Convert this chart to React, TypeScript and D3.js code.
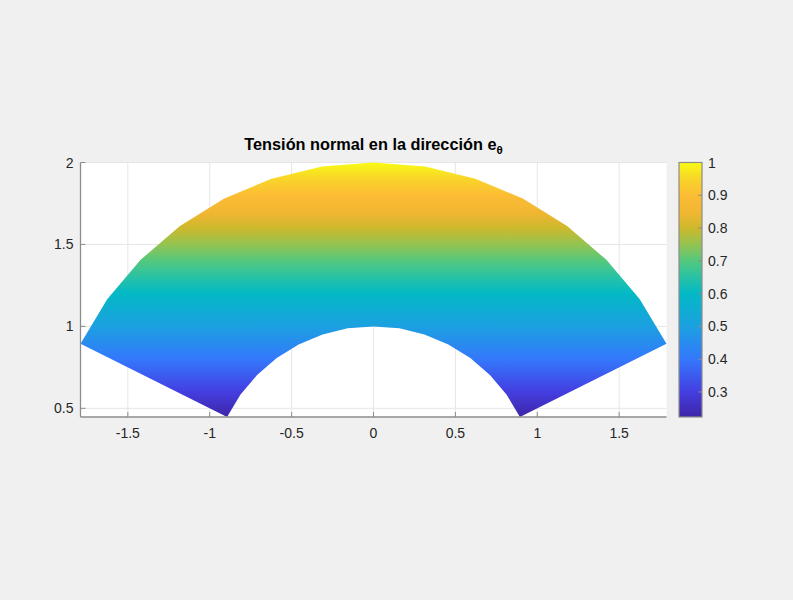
import * as d3 from 'd3'

// outer arc of the sector (r = 2), right to left
const outerX = [1.789, 1.626, 1.422, 1.182, 0.914, 0.622, 0.315, 0, -0.315, -0.622, -0.914, -1.182, -1.422, -1.626, -1.789]
const outerY = [0.894, 1.165, 1.406, 1.613, 1.779, 1.901, 1.975, 2.0, 1.975, 1.901, 1.779, 1.613, 1.406, 1.165, 0.894]
// inner arc (r = 1), right to left
const innerX = [0.894, 0.813, 0.711, 0.591, 0.457, 0.311, 0.158, 0, -0.158, -0.311, -0.457, -0.591, -0.711, -0.813, -0.894]
const innerY = [0.447, 0.583, 0.703, 0.807, 0.890, 0.950, 0.988, 1.0, 0.988, 0.950, 0.890, 0.807, 0.703, 0.583, 0.447]

const xTicks = [-1.5, -1, -0.5, 0, 0.5, 1, 1.5]
const yTicks = [0.5, 1, 1.5, 2]
const cbTicks = [0.3, 0.4, 0.5, 0.6, 0.7, 0.8, 0.9, 1]
const cMin = 0.2236
const cMax = 1

// parula-ish colormap
const parula: [number, string][] = [
  [0.0, 'rgb(62,38,168)'],
  [0.1, 'rgb(68,62,225)'],
  [0.227, 'rgb(52,120,252)'],
  [0.356, 'rgb(28,160,225)'],
  [0.485, 'rgb(3,185,197)'],
  [0.55, 'rgb(40,194,165)'],
  [0.614, 'rgb(85,200,125)'],
  [0.68, 'rgb(150,195,80)'],
  [0.742, 'rgb(205,185,45)'],
  [0.8, 'rgb(240,182,50)'],
  [0.871, 'rgb(252,188,52)'],
  [0.94, 'rgb(248,215,40)'],
  [1.0, 'rgb(249,251,20)'],
]

const W = 793
const H = 600
const font = '"Liberation Sans", Arial, Helvetica, sans-serif'
const axisCol = '#8c8c8c'
const txtCol = '#262626'

export default function App() {
  const x = d3.scaleLinear().domain([-1.789, 1.789]).range([80.5, 666.5])
  const y = d3.scaleLinear().domain([0.447, 2]).range([417, 162.5])
  const cb = d3.scaleLinear().domain([cMin, cMax]).range([417, 162.5])
  const cbL = 679
  const cbR = 702

  const pts: [number, number][] = []
  outerX.forEach((v, i) => pts.push([v, outerY[i]]))
  for (let i = innerX.length - 1; i >= 0; i--) pts.push([innerX[i], innerY[i]])
  const path = d3.line<[number, number]>().x(d => x(d[0])).y(d => y(d[1]))(pts) + 'Z'

  const [x0, x1] = x.range()
  const [yb, yt] = y.range()

  return (
    <svg width={W} height={H} style={{ position: 'fixed', left: 0, top: 0, background: '#f0f0f0' }}>
      <defs>
        <linearGradient id="gPatch" gradientUnits="userSpaceOnUse" x1={0} y1={y(0.447)} x2={0} y2={y(2)}>
          {parula.map(([t, c]) => <stop key={t} offset={t} stopColor={c} />)}
        </linearGradient>
        <linearGradient id="gBar" gradientUnits="userSpaceOnUse" x1={0} y1={cb(cMin)} x2={0} y2={cb(cMax)}>
          {parula.map(([t, c]) => <stop key={t} offset={t} stopColor={c} />)}
        </linearGradient>
      </defs>
      <rect x={0} y={0} width={W} height={H} fill="#f0f0f0" />
      <rect x={x0} y={yt} width={x1 - x0} height={yb - yt} fill="#ffffff" />
      {/* grid */}
      {xTicks.map(t => (
        <line key={'gx' + t} x1={x(t)} x2={x(t)} y1={yt} y2={yb} stroke="#e6e6e6" strokeWidth={1} />
      ))}
      {yTicks.map(t => (
        <line key={'gy' + t} x1={x0} x2={x1} y1={y(t)} y2={y(t)} stroke="#e6e6e6" strokeWidth={1} />
      ))}
      <path d={path} fill="url(#gPatch)" />
      {/* axes */}
      <line x1={x0} x2={x1} y1={yb} y2={yb} stroke={axisCol} strokeWidth={1.3} />
      <line x1={x0} x2={x0} y1={yt} y2={yb} stroke={axisCol} strokeWidth={1.3} />
      {xTicks.map(t => (
        <g key={'tx' + t}>
          <line x1={x(t)} x2={x(t)} y1={yb} y2={yb - 5} stroke={axisCol} strokeWidth={1} />
          <text x={x(t)} y={yb + 21} textAnchor="middle" fontFamily={font} fontSize={14} fill={txtCol}>{t}</text>
        </g>
      ))}
      {yTicks.map(t => (
        <g key={'ty' + t}>
          <line x1={x0} x2={x0 + 5} y1={y(t)} y2={y(t)} stroke={axisCol} strokeWidth={1} />
          <text x={x0 - 7} y={y(t) + 5} textAnchor="end" fontFamily={font} fontSize={14} fill={txtCol}>{t}</text>
        </g>
      ))}
      {/* title */}
      <text x={(x0 + x1) / 2} y={150} textAnchor="middle" fontFamily={font} fontSize={16.3} fontWeight="bold" fill="#000">
        Tensión normal en la dirección e<tspan dy={4} fontSize={11.5}>θ</tspan>
      </text>
      {/* colorbar */}
      <rect x={cbL} y={cb(cMax)} width={cbR - cbL} height={cb(cMin) - cb(cMax)} fill="url(#gBar)" stroke={axisCol} strokeWidth={1.2} />
      {cbTicks.map(t => (
        <g key={'cb' + t}>
          <line x1={cbR} x2={cbR - 4} y1={cb(t)} y2={cb(t)} stroke={axisCol} strokeWidth={1} />
          <text x={cbR + 6} y={cb(t) + 5} fontFamily={font} fontSize={14} fill={txtCol}>{t}</text>
        </g>
      ))}
    </svg>
  )
}
